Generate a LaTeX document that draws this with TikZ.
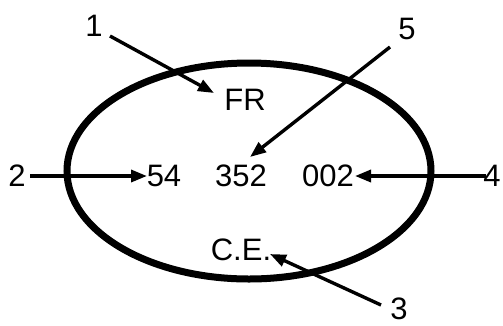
\documentclass[tikz,border=0pt]{standalone}
\usepackage{fontspec}
\setmainfont{Liberation Sans}
\usetikzlibrary{arrows.meta,shapes.geometric}
\begin{document}
\begin{tikzpicture}[x=1pt,y=-1pt,
  lbl/.style={inner sep=0pt,font=\fontsize{31}{31}\selectfont},
  conn/.style={line width=3.4pt,-{Triangle[length=16pt,width=12pt]}},
  ring/.style={draw,ellipse,line width=7pt,inner sep=0pt,minimum width=364pt,minimum height=216pt}]
\useasboundingbox (0,0) rectangle (503,325);
\node[ring] (ring) at (249,171) {};
% labels
\node[lbl] (n1) at (94,26) {1};
\node[lbl] (n5) at (407,29) {5};
\node[lbl] (n2) at (17,176) {2};
\node[lbl] (n4) at (492,176) {4};
\node[lbl] (n3) at (399,309) {3};
\node[lbl] (FR) at (245,100) {FR};
\node[lbl] (a54) at (164,176) {54};
\node[lbl] (a352) at (241,176) {352};
\node[lbl] (a002) at (328,176) {002};
\node[lbl] (CE) at (241,250) {C.E.};
% connector ends
\coordinate (s1) at (110,36);
\coordinate (t1) at (214,93);
\coordinate (s5) at (390,47);
\coordinate (t5) at (250,157);
\coordinate (s2) at (30,176);
\coordinate (t2) at (147,176);
\coordinate (s4) at (486,176);
\coordinate (t4) at (355,176);
\coordinate (s3) at (381,305);
\coordinate (t3) at (270,254);
\draw[conn] (s1) -- (t1);
\draw[conn] (s5) -- (t5);
\draw[conn] (s2) -- (t2);
\draw[conn] (s4) -- (t4);
\draw[conn] (s3) -- (t3);
\end{tikzpicture}
\end{document}
